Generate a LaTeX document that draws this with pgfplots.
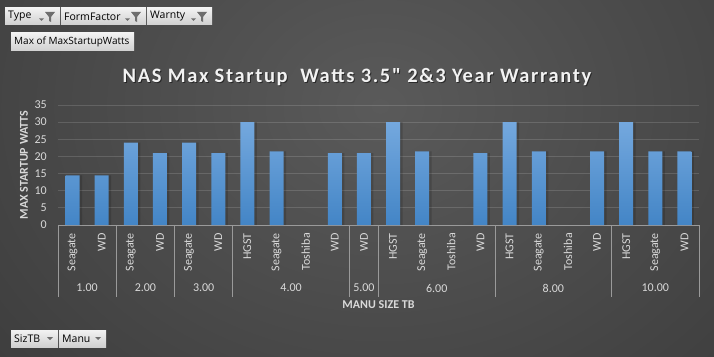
\documentclass[border=0pt]{standalone}
\usepackage{pgfplots}
\pgfplotsset{compat=1.18}
\usepackage{fontspec}
\setmainfont{Carlito}
\newfontfamily\titlefont[LetterSpace=8]{Carlito}
\newfontfamily\uifont{Open Sans}
\definecolor{bgin}{HTML}{5A5A5A}
\definecolor{bgout}{HTML}{1F1F1F}
\definecolor{lbl}{HTML}{D9D9D9}
\definecolor{titlec}{HTML}{F2F2F2}
\definecolor{sepgray}{HTML}{9A9A9A}
\definecolor{barTop}{HTML}{74A8DE}
\definecolor{barBot}{HTML}{4385C6}
\definecolor{btnTop}{HTML}{F2F2F2}
\definecolor{btnBot}{HTML}{D0D0D0}
\definecolor{icon}{HTML}{6E6E6E}
\pgfdeclareradialshading{bgshade}{\pgfpointorigin}{color(0bp)=(bgin); color(50bp)=(bgout)}
\newcommand{\fbtn}[3]{%
  \shade[top color=btnTop, bottom color=btnBot] (#1pt,331pt) rectangle (#2pt,348pt);
  \node[anchor=west, inner sep=0pt, font=\uifont\fontsize{10.5}{10.5}\selectfont, text=black] at ({#1pt+3pt},339.5pt) {#3};
  \fill[icon] ({#2pt-21pt},337.5pt) -- ({#2pt-16pt},337.5pt) -- ({#2pt-18.5pt},335pt) -- cycle;
  \fill[icon] ({#2pt-15pt},344pt) -- ({#2pt-5pt},344pt) -- ({#2pt-9pt},339pt) -- ({#2pt-9pt},334pt) -- ({#2pt-11pt},335pt) -- ({#2pt-11pt},339pt) -- cycle;
}
\newcommand{\dbtn}[3]{%
  \shade[top color=btnTop, bottom color=btnBot] (#1pt,9pt) rectangle (#2pt,26pt);
  \node[anchor=west, inner sep=0pt, font=\uifont\fontsize{10.5}{10.5}\selectfont, text=black] at ({#1pt+3pt},17.5pt) {#3};
  \fill[icon] ({#2pt-11pt},19pt) -- ({#2pt-5pt},19pt) -- ({#2pt-8pt},16pt) -- cycle;
}
\pgfplotstableread{
x y
0 14.5
1 14.5
2 24
3 21
4 24
5 21
6 30
7 21.5
9 21
10 21
11 30
12 21.5
14 21
15 30
16 21.5
18 21.5
19 30
20 21.5
21 21.5
}\datatable
\begin{document}
\begin{tikzpicture}
\useasboundingbox (0pt,0pt) rectangle (714pt,356pt);
\begin{scope}
\clip (0pt,0pt) rectangle (714pt,356pt);
\shade[shading=bgshade] (-140pt,-170pt) rectangle (900pt,670pt);
\end{scope}
\begin{axis}[
  at={(58pt,131pt)}, anchor=south west,
  scale only axis, width=641pt, height=120pt,
  xmin=-0.5, xmax=21.5, ymin=0, ymax=35,
  clip=false,
  separate axis lines,
  axis x line*=bottom, axis y line*=left,
  y axis line style={draw=none},
  x axis line style={draw=sepgray, line width=0.8pt},
  major tick length=0pt,
  ytick={0,5,...,35},
  ymajorgrids,
  grid style={white, opacity=0.14, line width=0.8pt},
  xtick={0,...,21},
  xticklabels={Seagate,WD,Seagate,WD,Seagate,WD,HGST,Seagate,Toshiba,WD,WD,HGST,Seagate,Toshiba,WD,HGST,Seagate,Toshiba,WD,HGST,Seagate,WD},
  xticklabel style={yshift=-8pt, rotate=90, anchor=east, inner sep=0pt, font=\fontsize{12}{12}\selectfont, text=lbl},
  yticklabel style={anchor=east, inner sep=0pt, xshift=-11pt, font=\fontsize{12}{12}\selectfont, text=lbl},
  /pgf/number format/assume math mode=true,
  ylabel={MAX STARTUP WATTS},
  ylabel style={at={(axis description cs:-0.053,0.5)}, anchor=center, font=\bfseries\fontsize{12}{12}\selectfont, text=lbl},
  xlabel={MANU SIZE TB},
  xlabel style={at={(axis description cs:0.5,0)}, yshift=-80pt, anchor=center, font=\bfseries\fontsize{12}{12}\selectfont, text=lbl},
]
\addplot[ybar, bar width=15pt, bar shift=2pt, draw=none, fill=black, fill opacity=0.15, forget plot] table[x=x,y=y] {\datatable};
\addplot[ybar, bar width=14pt, draw=none, top color=barTop, bottom color=barBot] table[x=x,y=y] {\datatable};
\pgfplotsinvokeforeach{-0.5,1.5,3.5,5.5,9.5,10.5,14.5,18.5,21.5}{
  \draw[sepgray, line width=0.8pt] (axis cs:#1,0) -- ++(0pt,-72pt);
}
\node[text=lbl, font=\fontsize{12}{12}\selectfont] at (axis cs:0.5,0) [yshift=-63pt] {1.00};
\node[text=lbl, font=\fontsize{12}{12}\selectfont] at (axis cs:2.5,0) [yshift=-63pt] {2.00};
\node[text=lbl, font=\fontsize{12}{12}\selectfont] at (axis cs:4.5,0) [yshift=-63pt] {3.00};
\node[text=lbl, font=\fontsize{12}{12}\selectfont] at (axis cs:7.5,0) [yshift=-63pt] {4.00};
\node[text=lbl, font=\fontsize{12}{12}\selectfont] at (axis cs:10,0) [yshift=-63pt] {5.00};
\node[text=lbl, font=\fontsize{12}{12}\selectfont] at (axis cs:12.5,0) [yshift=-63pt] {6.00};
\node[text=lbl, font=\fontsize{12}{12}\selectfont] at (axis cs:16.5,0) [yshift=-63pt] {8.00};
\node[text=lbl, font=\fontsize{12}{12}\selectfont] at (axis cs:20,0) [yshift=-63pt] {10.00};
\end{axis}
\node[anchor=base, inner sep=0pt, text=black, opacity=0.5, font=\titlefont\bfseries\fontsize{20.5}{20.5}\selectfont] at (358pt,272pt) {NAS Max Startup\ \ Watts 3.5" 2\&3 Year Warranty};
\node[anchor=base, inner sep=0pt, text=titlec, font=\titlefont\bfseries\fontsize{20.5}{20.5}\selectfont] at (357pt,273pt) {NAS Max Startup\ \ Watts 3.5" 2\&3 Year Warranty};
\fbtn{5}{60}{Type}
\fbtn{61}{146}{FormFactor}
\fbtn{147}{212}{Warnty}
\shade[top color=btnTop, bottom color=btnBot] (11pt,305pt) rectangle (134pt,323pt);
\node[anchor=west, inner sep=0pt, font=\uifont\fontsize{10}{10}\selectfont, text=black] at (14pt,314pt) {Max of MaxStartupWatts};
\dbtn{11}{58}{SizTB}
\dbtn{59}{106}{Manu}
\end{tikzpicture}
\end{document}
